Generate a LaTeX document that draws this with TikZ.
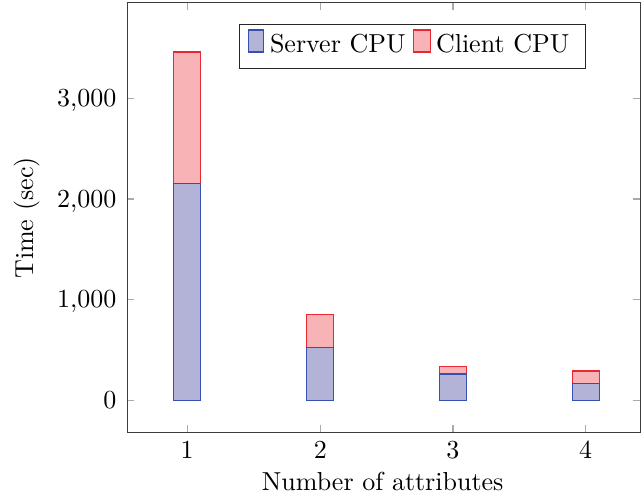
\documentclass[tikz,border=0pt]{standalone}
\definecolor{sfill}{RGB}{179,179,216}
\definecolor{sline}{RGB}{55,80,175}
\definecolor{cfill}{RGB}{247,179,181}
\definecolor{cline}{RGB}{232,40,50}
\definecolor{axcol}{RGB}{60,60,60}
\definecolor{tickcol}{RGB}{170,170,170}
\tikzset{
  serverbar/.style={fill=sfill,draw=sline,line width=0.5pt},
  clientbar/.style={fill=cfill,draw=cline,line width=0.5pt},
  tickline/.style={draw=tickcol,line width=0.5pt},
  axisline/.style={draw=axcol,line width=0.55pt},
  ticklabel/.style={inner sep=0pt},
}
\begin{document}
\begin{tikzpicture}[x=0.3846pt,y=-0.3846pt]
\useasboundingbox (0,0) rectangle (641,504);
% bars: client (red) first, then server (blue)
\foreach \cx/\b/\r in {187.2/183.7/52, 320.3/347.3/314.3, 453/374/366.7, 585.7/383.3/371}{
  \draw[clientbar] (\cx-13.5,\b) rectangle (\cx+13.5,\r);
  \draw[serverbar] (\cx-13.5,400.3) rectangle (\cx+13.5,\b);
}
% ticks
\foreach \cx in {187.2,320.3,453,585.7}{
  \draw[tickline] (\cx,432.3) -- (\cx,425.3);
  \draw[tickline] (\cx,2.7) -- (\cx,9.7);
}
\foreach \ty in {400.3,299.6,198.9,98.2}{
  \draw[tickline] (127.3,\ty) -- (134.3,\ty);
  \draw[tickline] (640.5,\ty) -- (633.5,\ty);
}
% axis frame
\draw[axisline] (127.3,2.7) rectangle (640.5,432.3);
% x tick labels
\foreach \cx/\lab in {187.2/1, 320.3/2, 453/3, 585.7/4}{
  \node[ticklabel,anchor=base] (xl\lab) at (\cx,459) {\lab};
}
% y tick labels
\node[ticklabel,anchor=base east] (yl0) at (117,408.7) {0};
\node[ticklabel,anchor=base east] (yl1) at (117,308.0) {1,000};
\node[ticklabel,anchor=base east] (yl2) at (117,207.3) {2,000};
\node[ticklabel,anchor=base east] (yl3) at (117,106.6) {3,000};
% axis labels
\node[ticklabel,rotate=90] (ylab) at (26.7,218) {Time (sec)};
\node[ticklabel,anchor=base] (xlab) at (382.7,491) {Number of attributes};
% legend
\draw[fill=white,draw=black!85,line width=0.5pt] (239.3,24.3) rectangle (585.7,68.3);
\draw[serverbar] (248.3,30) rectangle (263.7,52);
\node[ticklabel,anchor=base west] (lserver) at (269.5,52.5) {Server CPU};
\draw[clientbar] (413.3,30) rectangle (430.7,52);
\node[ticklabel,anchor=base west] (lclient) at (435.5,52.5) {Client CPU};
\end{tikzpicture}
\end{document}
